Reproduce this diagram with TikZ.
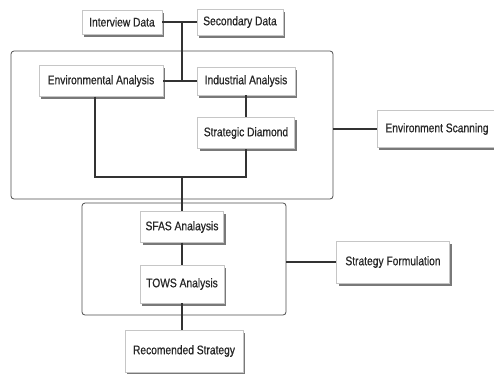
\documentclass[tikz,border=0pt]{standalone}
\usepackage{fontspec}
\setmainfont{Liberation Sans}[FakeStretch=0.82,FakeBold=0.6]
\usetikzlibrary{shadows}

\begin{document}
\begin{tikzpicture}[x=1pt,y=-1pt,
  box/.style={draw=gray!45,fill=white,text=black!85,inner sep=0pt,
    drop shadow={shadow xshift=2pt,shadow yshift=-2.5pt,fill=black!70,opacity=0.75},
    font=\fontsize{12.5}{13}\selectfont},
  frame/.style={draw=black!70,rounded corners=3pt,line width=0.8pt},
  ln/.style={draw=black!80,line width=1.1pt}]
\useasboundingbox (0,0) rectangle (494,373);
\node[frame,minimum width=322pt,minimum height=148pt] (frameA) at (172,125) {};
\node[frame,minimum width=204pt,minimum height=112pt] (frameB) at (184,259) {};
\node[box,minimum width=80pt,minimum height=24pt] (intv) at (122,22) {Interview Data};
\node[box,minimum width=86pt,minimum height=26pt] (scnd) at (240,22) {Secondary Data};
\node[box,minimum width=124pt,minimum height=31pt] (env) at (101,81) {Environmental Analysis};
\node[box,minimum width=98pt,minimum height=28pt] (ind) at (246,81) {Industrial Analysis};
\node[box,minimum width=97pt,minimum height=31pt] (diam) at (246,133) {Strategic Diamond};
\node[box,minimum width=120pt,minimum height=37pt] (scan) at (437,129) {Environment Scanning};
\node[box,minimum width=83pt,minimum height=31pt] (sfas) at (182,227) {SFAS Analaysis};
\node[box,minimum width=84pt,minimum height=38pt] (tows) at (182,284) {TOWS Analysis};
\node[box,minimum width=118pt,minimum height=42pt] (rec) at (184,351) {Recomended Strategy};
\node[box,minimum width=113pt,minimum height=42pt] (form) at (393,262) {Strategy Formulation};
\coordinate (tj) at (182,22);
\coordinate (bj) at (182,177);
\coordinate (el) at (95,177);
\draw[ln] (intv) -- (scnd);
\draw[ln] (tj) -- (tj |- env);
\draw[ln] (env) -- (ind);
\draw[ln] (ind) -- (diam);
\draw[ln] (el |- env.south) -- (el) -- (el -| diam) -- (diam.south);
\draw[ln] (bj) -- (sfas);
\draw[ln] (sfas) -- (tows);
\draw[ln] (tows) -- (tows |- rec.north);
\draw[ln] (frameA.east |- scan) -- (scan);
\draw[ln] (frameB.east |- form) -- (form);
\end{tikzpicture}
\end{document}
